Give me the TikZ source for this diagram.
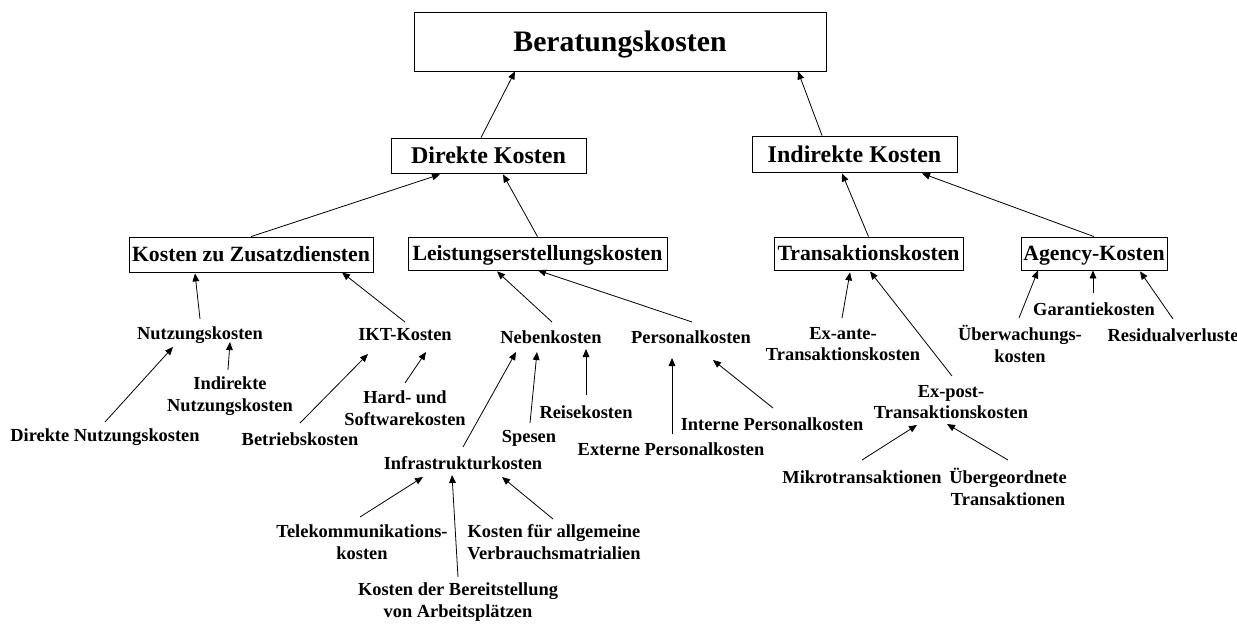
\documentclass[tikz,border=0pt]{standalone}
\usepackage{fontspec}
\setmainfont{Liberation Serif}
\usetikzlibrary{arrows.meta}

% one unit = one pixel of the 1237 x 624 layout, y pointing down
\tikzset{
  x=0.75pt, y=-0.75pt,
  every node/.style={font=\bfseries},
  box/.style 2 args={draw, line width=0.6pt, inner sep=0pt, text depth=0pt,
    minimum width=#1*0.75pt, minimum height=#2*0.75pt},
  topfont/.style={font=\bfseries\fontsize{22.3}{26}\selectfont, text height=14.9pt},
  midfont/.style={font=\bfseries\fontsize{18}{21}\selectfont, text height=12pt},
  subfont/.style={font=\bfseries\fontsize{16.3}{19}\selectfont, text height=10.9pt},
  leaf/.style={font=\bfseries\fontsize{13.8}{16.2}\selectfont, align=center, inner sep=0pt},
  arr/.style={line width=0.6pt, -{Triangle[length=6pt,width=5pt]}}
}
\newcommand\conn[4]{\draw[arr] ([shift={(#2)}]#1) -- ([shift={(#4)}]#3);}

\begin{document}
\begin{tikzpicture}
\useasboundingbox (0,0) rectangle (1237,624);

% boxed categories
\node[box={412}{59}, topfont] (B)  at (620,41.5)   {Beratungskosten};
\node[box={195}{35}, midfont] (D)  at (488.5,155.5) {Direkte Kosten};
\node[box={205}{36}, midfont] (I)  at (854.5,154)  {Indirekte Kosten};
\node[box={244}{35}, subfont] (KZ) at (251,254.5)  {Kosten zu Zusatzdiensten};
\node[box={259}{33}, subfont] (LE) at (537.5,253.5) {Leistungserstellungskosten};
\node[box={189}{33}, subfont] (TR) at (868.5,253.5) {Transaktionskosten};
\node[box={146}{33}, subfont] (AG) at (1094,253.5) {Agency-Kosten};

% plain cost items
\node[leaf] (nutz)    at (200,335)  {Nutzungskosten};
\node[leaf] (ikt)     at (405,335)  {IKT-Kosten};
\node[leaf] (neben)   at (551,337)  {Nebenkosten};
\node[leaf] (pers)    at (691,337)  {Personalkosten};
\node[leaf] (exante)  at (843,344)  {Ex-ante-\\Transaktionskosten};
\node[leaf] (ueber)   at (1020,344) {Überwachungs-\\kosten};
\node[leaf] (garant)  at (1094,309) {Garantiekosten};
\node[leaf] (resid)   at (1173,335) {Residualverluste};

\node[leaf] (dnutz)   at (105,437)  {Direkte Nutzungskosten};
\node[leaf] (inutz)   at (230,396)  {Indirekte\\Nutzungskosten};
\node[leaf] (betrieb) at (300,439)  {Betriebskosten};
\node[leaf] (hard)    at (405,408)  {Hard- und\\Softwarekosten};
\node[leaf] (spesen)  at (529,438)  {Spesen};
\node[leaf] (reise)   at (586,412)  {Reisekosten};
\node[leaf] (extern)  at (671,449)  {Externe Personalkosten};
\node[leaf] (intern)  at (772,424)  {Interne Personalkosten};
\node[leaf] (infra)   at (463,463)  {Infrastrukturkosten};
\node[leaf] (expost)  at (951,402)  {Ex-post-\\Transaktionskosten};
\node[leaf] (mikro)   at (862,477)  {Mikrotransaktionen};
\node[leaf] (uebgeo)  at (1008,487) {Übergeordnete\\Transaktionen};

\node[leaf] (tele)    at (362,542)  {Telekommunikations-\\kosten};
\node[leaf] (verbr)   at (554,542)  {Kosten für allgemeine\\Verbrauchsmatrialien};
\node[leaf] (bereit)  at (458,602)  {Kosten der Bereitstellung\\von Arbeitsplätzen};

% connectors, each pointing to the parent item
\conn{D.north}{-7.5,0}{B.south}{-105,0}
\conn{I.north}{-32.5,0}{B.south}{178,0}
\conn{KZ.north}{0,0}{D.south}{-48.5,1}
\conn{LE.north}{0,0}{D.south}{14.5,1}
\conn{TR.north}{0,0}{I.south}{-12.5,1}
\conn{AG.north}{0,0}{I.south}{67.5,1}

\conn{nutz.center}{0,-16}{KZ.south}{-56,1}
\conn{ikt.center}{0,-13}{KZ.south}{91,0}
\conn{neben.center}{1,-15}{LE.south}{-40.5,1}
\conn{pers.center}{1,-15}{LE.south}{0.5,0}
\conn{exante.center}{-1,-26}{TR.south}{-18.5,2}
\conn{expost.center}{1,-26}{TR.south}{1.5,1}
\conn{ueber.center}{-1,-26}{AG.south}{-56,0}
\conn{garant.center}{-1,-16}{AG.south}{-1,0}
\conn{resid.center}{0,-16}{AG.south}{46,1}

\conn{dnutz.center}{0,-15}{nutz.center}{-27,12}
\conn{inutz.center}{-2,-26}{nutz.center}{30,7}
\conn{betrieb.center}{0,-16}{ikt.center}{-37,19}
\conn{hard.center}{0,-25}{ikt.center}{21,17}
\conn{infra.center}{0,-16}{neben.center}{-35,15}
\conn{spesen.center}{1,-15}{neben.center}{-14,15}
\conn{reise.center}{0,-17}{neben.center}{35,12}
\conn{extern.center}{1,-15}{pers.center}{-19,21}
\conn{intern.center}{1,-16}{pers.center}{22,23}
\conn{mikro.center}{0,-17}{expost.center}{-34,23}
\conn{uebgeo.center}{0,-27}{expost.center}{-4,22}

\conn{tele.center}{-2,-25}{infra.center}{-40,14}
\conn{bereit.center}{0,-25}{infra.center}{-11,12}
\conn{verbr.center}{-1,-23}{infra.center}{39,14}
\end{tikzpicture}
\end{document}
